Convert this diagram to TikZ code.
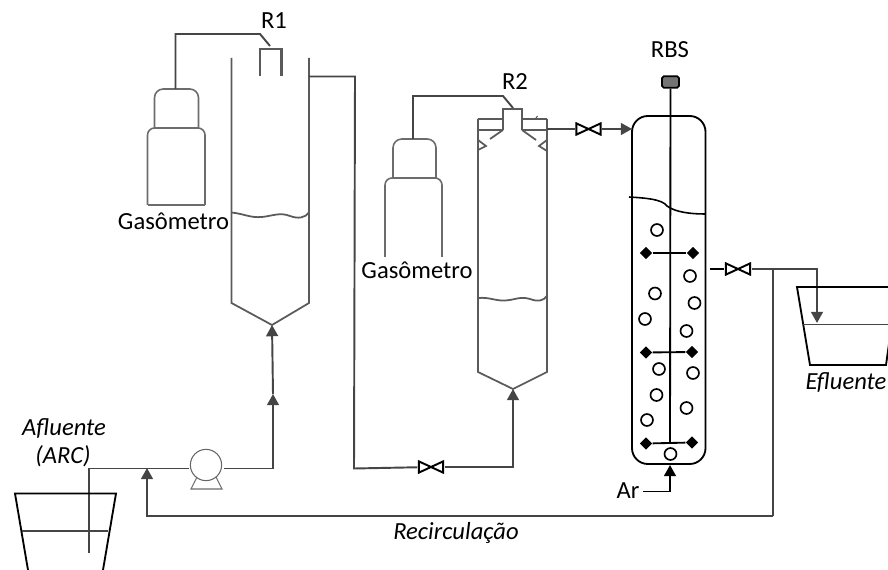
\documentclass[tikz,border=0pt]{standalone}
\usepackage{fontspec}
\setmainfont{Carlito}
\usetikzlibrary{arrows.meta,shapes.geometric}
\definecolor{pipegray}{HTML}{454545}
\definecolor{wallgray}{HTML}{5A5A5A}
\tikzset{
  pipe/.style={line width=1.1pt,pipegray},
  flow/.style={pipe,->,>={Triangle[length=6.4pt,width=6.8pt]}},
  wall/.style={line width=1pt,wallgray},
  blackwall/.style={line width=1.05pt,black},
  gaswall/.style={line width=.9pt,gray!85!black},
  valve/.style={minimum width=15pt,minimum height=7.6pt,inner sep=0pt,path picture={
    \draw[line width=1.1pt,line join=miter] ([shift={(.6pt,-.6pt)}]path picture bounding box.north west)
      -- ([shift={(-.6pt,.6pt)}]path picture bounding box.south east)
      -- ([shift={(-.6pt,-.6pt)}]path picture bounding box.north east)
      -- ([shift={(.6pt,.6pt)}]path picture bounding box.south west) -- cycle;}},
  paddle/.style={diamond,fill=black,minimum size=7.2pt,inner sep=0pt},
  bubble/.style={circle,draw,line width=.95pt,minimum size=6.8pt,inner sep=0pt},
  label/.style={font=\fontsize{14}{16}\selectfont,inner sep=0pt},
  itlabel/.style={label,font=\fontsize{14}{16}\selectfont\itshape}
}
\begin{document}
\begin{tikzpicture}[x=0.02cm,y=-0.02cm]
  \useasboundingbox (0,0) rectangle (888,570);
  % named points on the pipe runs
  \coordinate (R1apex) at (272,325);
  \coordinate (R2apex) at (513,389);
  \coordinate (R1out) at (309,76.5);
  \coordinate (R2out) at (547,129);
  \coordinate (RBSin) at (632,129);
  \coordinate (RBSout) at (710,269);
  \coordinate (RBSbase) at (670,465);
  \coordinate (ArIn) at (643,491.5);
  \coordinate (AflEnd) at (89,553);
  \coordinate (RecTee) at (773,269);
  \coordinate (RecIn) at (147,468);
  \coordinate (PumpTee) at (273,394);
  \coordinate (PumpIn) at (189,468.5);
  \coordinate (PumpOut) at (224,468.5);
  \coordinate (EflIn) at (817,323);
  \coordinate (Gas1in) at (175.5,89);
  \coordinate (Gas1out) at (270,46);
  \coordinate (Gas2in) at (413,139);
  \coordinate (Gas2out) at (513,108);
  % gasometers
  \draw[gaswall,rounded corners=5pt] (154.5,128) -- (154.5,89) -- (198.5,89) -- (198.5,128);
  \draw[gaswall,rounded corners=4pt] (147.5,205) -- (147.5,128) -- (205,128) -- (205,205);
  \draw[gaswall] (147.5,205) -- (205,205);
  \draw[gaswall,rounded corners=5pt] (393,178) -- (393,139) -- (436,139) -- (436,178);
  \draw[gaswall,rounded corners=4pt] (385,257) -- (385,178) -- (442,178) -- (442,257);
  \draw[pipe] (Gas1in) |- (260,34) -- (Gas1out);
  \draw[pipe] (Gas2in) |- (503,96) -- (Gas2out);
  % R1
  \draw[wall] (231.5,58) -- (231.5,303) -- (R1apex) -- (309,303) -- (309,58);
  \draw[wall] (231.5,212.5) .. controls (245,214) and (250,218) .. (262,217)
    .. controls (272,216) and (280,212) .. (290,216) .. controls (298,219) and (305,218) .. (309,212.5);
  \draw[wall,line width=1.3pt] (260,76) -- (260,49) -- (281.5,49) -- (281.5,76);
  % R2
  \draw[wall] (478,119) -- (478,372) -- (R2apex) -- (547,372) -- (547,119);
  \draw[wall] (478,119) -- (503,119) (522,119) -- (547,119) (478,130) -- (503,130) (522,130) -- (547,130);
  \draw[wall,line width=1.3pt] (503,130) -- (503,109) -- (522,109) -- (522,130);
  \draw[wall] (503,130) -- (490,139) (522,130) -- (536,140);
  \draw[wall] (478,140) -- (486,146) -- (478,150) (547,140) -- (539,146) -- (547,151);
  \draw[wall,line width=.6pt] (536,118) -- (537.5,116);
  \draw[wall] (478,298) .. controls (490,297) and (495,301) .. (505,300.5)
    .. controls (515,300) and (520,296) .. (530,299) .. controls (538,302) and (543,301) .. (547,296);
  % RBS
  \draw[blackwall,rounded corners=9pt] (632,116) rectangle (705.5,464);
  \node[draw=black,line width=1pt,fill=gray!90!black,rounded corners=1pt,minimum width=9.6pt,minimum height=6.6pt,inner sep=0pt] (motor) at (670.5,82) {};
  \coordinate (ShaftEnd) at (670,443);
  \draw[blackwall] (motor) -- (ShaftEnd);
  \draw[blackwall,line width=.9pt] (629,197) .. controls (645,198) and (662,199) .. (667,206)
    .. controls (675,212) and (690,214) .. (705,214);
  \node[paddle] (imp1l) at (646,253) {};
  \node[paddle] (imp1r) at (693,253) {};
  \node[paddle] (imp2l) at (646,352.5) {};
  \node[paddle] (imp2r) at (692,352) {};
  \node[paddle] (imp3l) at (646,443.5) {};
  \node[paddle] (imp3r) at (692,442.5) {};
  \foreach \n in {1,2,3} \draw[blackwall] (imp\n l) -- (imp\n r);
  \foreach \x/\y in {657/230,690/276,655/293.5,694.5/303,645/319,686.5/331,659/369,693/373,656.5/395,686.5/408,647/420,670.5/454}
    \node[bubble] at (\x,\y) {};
  % pipes and valves
  \node[valve] (valveB) at (431,467) {};
  \node[valve] (valveC) at (588.5,129) {};
  \node[valve] (valveD) at (738,269) {};
  \draw[pipe] (R1out) -- (355,76.5) -- (354,468.5) -- (valveB);
  \draw[flow] (valveB) -- (513,467) -- (R2apex);
  \draw[pipe] (R2out) -- (valveC);
  \draw[flow] (valveC) -- (RBSin);
  \draw[blackwall] (RBSout) -- (valveD);
  \draw[pipe] (valveD) -- (RecTee);
  \draw[flow] (RecTee) -- (817,269) -- (EflIn);
  \draw[pipe,line width=.9pt] (RecTee) -- (773,516);
  \draw[flow] (773,516) -- (147,516) -- (RecIn);
  \draw[flow,black] (ArIn) -- (670,491.5) -- (RBSbase);
  % pump
  \node[circle,draw=gray!80!black,line width=.6pt,minimum size=17.8pt,inner sep=0pt] (pump) at (206,465) {};
  \draw[gaswall,line width=.6pt] (197,477) -- (191,489) -- (222,489) -- (216,477);
  \draw[pipe] (AflEnd) -- (89,468.5) -- (PumpIn);
  \draw[flow] (PumpOut) -- (273,468.5) -- (PumpTee);
  \draw[flow] (PumpTee) -- (R1apex);
  % tanks
  \draw[blackwall] (28,570) -- (15,493.5) -- (116,493.5) -- (103,570);
  \draw[pipegray,line width=1.1pt] (21.5,531) -- (108,531);
  \draw[blackwall] (896,287) -- (797,287) -- (810,365) -- (886,365) -- (897,287);
  \draw[pipegray,line width=1.1pt] (803,324.5) -- (892,324.5);
  % labels
  \node[label] (lblR1) at (274,21) {R1};
  \node[label] (lblR2) at (515,82) {R2};
  \node[label] (lblRBS) at (670,50) {RBS};
  \node[label] (lblGas1) at (173.5,221) {Gasômetro};
  \node[label] (lblGas2) at (417,270) {Gasômetro};
  \node[label] (lblAr) at (628,491) {Ar};
  \node[itlabel] (lblAfl) at (64,428) {Afluente};
  \node[itlabel] (lblArc) at (63,456) {(ARC)};
  \node[itlabel] (lblEfl) at (846,382) {Efluente};
  \node[itlabel] (lblRec) at (456,533) {Recirculação};
\end{tikzpicture}
\end{document}
